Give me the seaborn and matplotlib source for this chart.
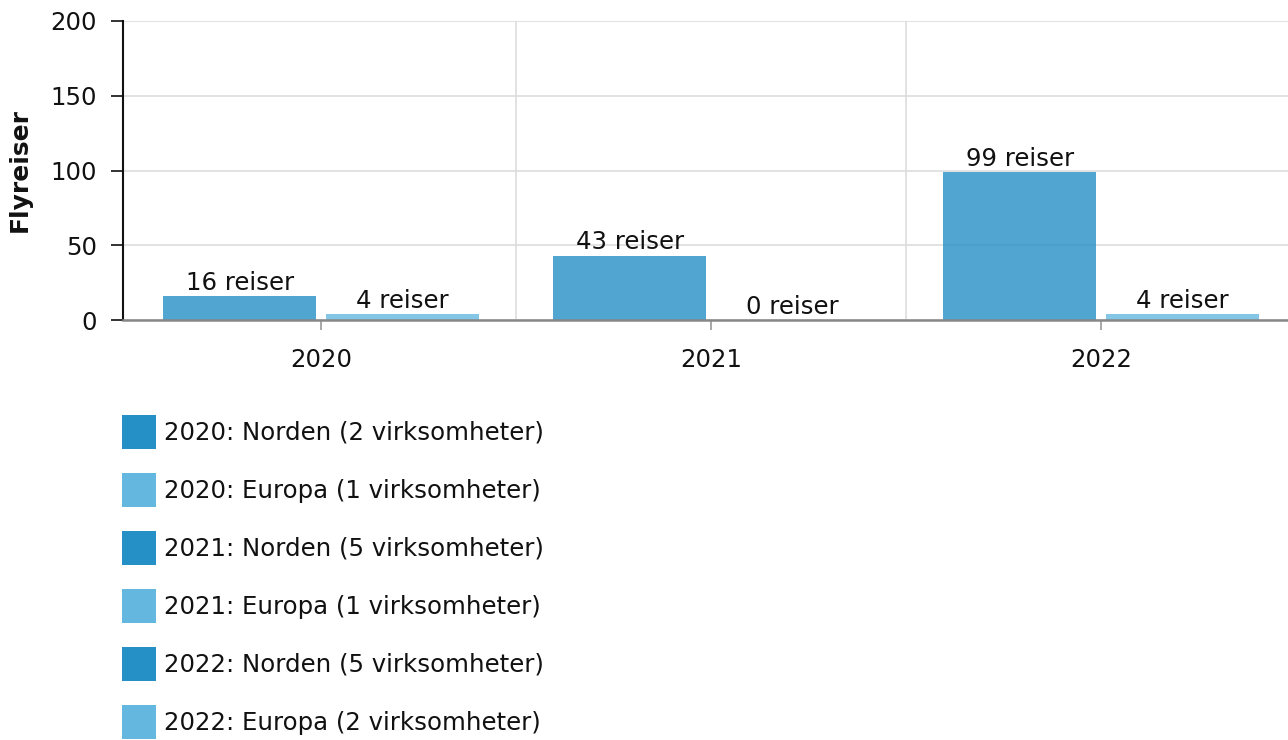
import matplotlib
matplotlib.use("Agg")
import matplotlib.pyplot as plt
import matplotlib.patches as mpatches
import seaborn as sns
import pandas as pd

years = ["2020", "2021", "2022"]
regions = ["Norden", "Europa"]
norden = [16, 43, 99]
europa = [4, 0, 4]
norden_firms = [2, 5, 5]
europa_firms = [1, 1, 2]

c_norden = "#2490C5"
c_europa = "#64B8DF"

rows = []
for i, y in enumerate(years):
    rows.append({"year": y, "region": "Norden", "value": norden[i]})
    rows.append({"year": y, "region": "Europa", "value": europa[i]})
df = pd.DataFrame(rows)

sns.set_theme(style="white")
plt.rcParams['font.family'] = ['DejaVu Sans']
plt.rcParams['text.color'] = "#111111"
plt.rcParams['axes.labelcolor'] = "#111111"
plt.rcParams['xtick.labelcolor'] = "#111111"
plt.rcParams['ytick.labelcolor'] = "#111111"
FS = 17.6

fig = plt.figure(figsize=(12.88, 7.40), dpi=100)
ax = fig.add_axes([123/1288, 1 - 320/740, 1 - 123/1288, (320 - 21)/740])

sns.barplot(data=df, x="year", y="value", hue="region", hue_order=regions,
            palette=[c_norden, c_europa], alpha=0.8, width=0.832, gap=0.058,
            legend=False, ax=ax, zorder=3, errorbar=None, saturation=1,
            linewidth=0)

for cont in ax.containers:
    ax.bar_label(cont, labels=[f"{int(b.get_height())} reiser" for b in cont],
                 padding=1, fontsize=FS, color="#111111")

ax.set_ylim(0, 200)
ax.set_yticks([0, 50, 100, 150, 200])
x0 = -0.5 - 3 / 390
ax.set_xlim(x0, x0 + (1288 - 123) / 390)
ax.set_xticks([0.5, 1.5], minor=True)
ax.grid(True, which="major", axis="y", color="#dddddd", linewidth=1.2, zorder=0)
ax.grid(True, which="minor", axis="x", color="#dddddd", linewidth=1.2, zorder=0)
ax.set_axisbelow(True)

for s in ["top", "right"]:
    ax.spines[s].set_visible(False)
ax.spines["left"].set_color("#111111")
ax.spines["left"].set_linewidth(1.5)
ax.spines["bottom"].set_color("#888888")
ax.spines["bottom"].set_linewidth(1.8)
ax.spines["bottom"].set_zorder(5)

ax.tick_params(axis="y", which="major", direction="out", length=8.6, width=1.2,
               color="#111111", pad=10, labelsize=FS, left=True)
ax.tick_params(axis="x", which="major", direction="out", length=7, width=1.2,
               color="#999999", pad=13, labelsize=FS, bottom=True)
ax.tick_params(axis="x", which="minor", length=0)

ax.set_xlabel("")
ax.set_ylabel("Flyreiser", fontsize=FS + 0.4, fontweight="bold")
ax.yaxis.set_label_coords(-(123 - 20) / (1288 - 123), 0.5)
ax.yaxis.label.set_verticalalignment("center")

handles = []
for i, y in enumerate(years):
    handles.append(mpatches.Patch(facecolor=c_norden, edgecolor="none",
                                  label=f"{y}: Norden ({norden_firms[i]} virksomheter)"))
    handles.append(mpatches.Patch(facecolor=c_europa, edgecolor="none",
                                  label=f"{y}: Europa ({europa_firms[i]} virksomheter)"))

fpx = FS * 100 / 72
hh = (34 / fpx - 0.245) / 0.65
fig.legend(handles=handles, loc="upper left", bbox_to_anchor=(122/1288, 1 - 415/740),
           frameon=False, fontsize=FS, handlelength=34 / fpx, handleheight=hh,
           handletextpad=8 / fpx, labelspacing=24 / fpx, borderpad=0, borderaxespad=0)

fig.savefig("out.png", dpi=100)
